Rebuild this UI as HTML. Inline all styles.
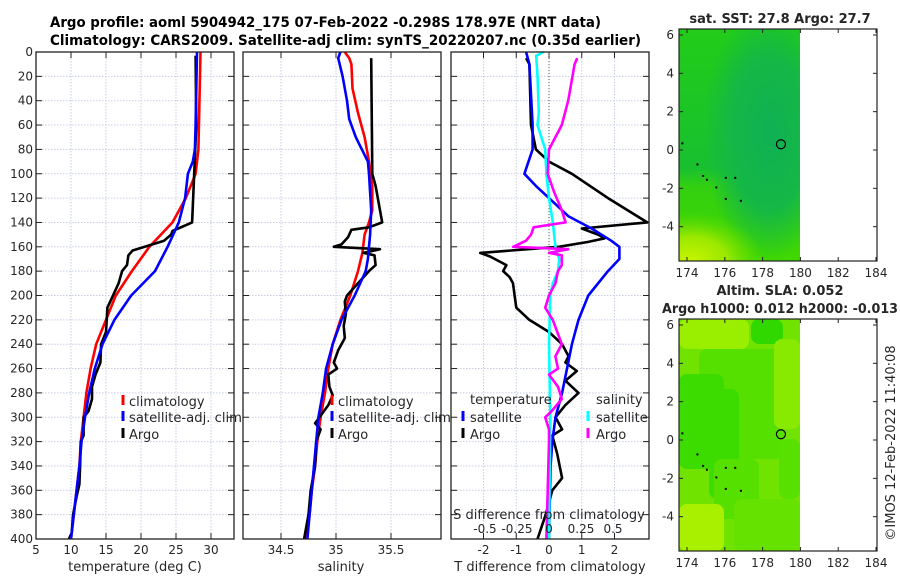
<!DOCTYPE html>
<html><head><meta charset="utf-8">
<style>
html,body{margin:0;padding:0;background:#fff;}
svg{display:block;font-family:"DejaVu Sans","Liberation Sans",sans-serif;}
</style></head>
<body>
<svg id="fig" width="900" height="580" viewBox="0 0 900 580" xmlns="http://www.w3.org/2000/svg">
<defs>
  <radialGradient id="sstTeal" cx="0.75" cy="0.45" r="0.55">
    <stop offset="0" stop-color="#10b055"/>
    <stop offset="0.6" stop-color="#15b845"/>
    <stop offset="1" stop-color="#15b845" stop-opacity="0"/>
  </radialGradient>
  <linearGradient id="sstBase" x1="0" y1="0" x2="0" y2="1">
    <stop offset="0" stop-color="#22cc18"/>
    <stop offset="0.6" stop-color="#18c030"/>
    <stop offset="0.68" stop-color="#33d010"/>
    <stop offset="1" stop-color="#40d800"/>
  </linearGradient>
  <radialGradient id="sstYellow" cx="0.1" cy="1" r="0.6">
    <stop offset="0" stop-color="#c8f400"/>
    <stop offset="0.5" stop-color="#9ae800"/>
    <stop offset="1" stop-color="#60dc00" stop-opacity="0"/>
  </radialGradient>
</defs>
<g id="title" font-weight="bold" font-size="14">
  <text x="50" y="27" textLength="551" lengthAdjust="spacingAndGlyphs">Argo profile: aoml 5904942_175 07-Feb-2022 -0.298S 178.97E (NRT data)</text>
  <text x="50" y="45" textLength="591" lengthAdjust="spacingAndGlyphs">Climatology: CARS2009. Satellite-adj clim: synTS_20220207.nc (0.35d earlier)</text>
</g>
<g id="panels"></g>
<g id="maps"></g>
</svg>
<script>
// ---------- data ----------
const tDepth   = [0,80,100,120,140,160,180,200,220,240,260,280,300,320,340,360,380,400];
const tClim    = [28.5,28.2,27.8,26.4,24.5,21.2,18.7,16.4,15.0,13.6,12.8,12.2,11.8,11.4,11.2,10.8,10.4,10.0];
const tSatDepth= [0,60,80,90,100,120,140,160,180,200,220,240,260,280,300,320,340,360,380,400];
const tSat     = [28.0,27.8,27.7,27.4,26.7,26.3,25.4,23.8,22.0,18.6,16.2,14.5,13.4,12.6,12.0,11.5,11.2,10.8,10.4,10.0];
const tArgoDepth=[3,60,140,147,150,155,163,167,175,180,190,200,210,230,240,255,265,275,285,295,300,315,320,340,355,365,380,395,400];
const tArgo    = [27.8,27.9,27.3,24.5,24.3,23.3,18.8,18.2,18.0,17.3,16.8,16.0,15.2,15.0,14.3,14.2,13.5,13.0,13.0,12.5,11.8,11.8,11.4,11.3,11.2,10.8,10.3,10.1,9.7];

const sClimDepth=[0,5,10,30,50,70,90,110,130,140,150,165,180,200,220,240,260,280,300,320,340,360,380,400];
const sClim    = [35.08,35.12,35.14,35.15,35.2,35.26,35.3,35.33,35.33,35.3,35.26,35.24,35.2,35.13,35.04,34.97,34.93,34.9,34.86,34.83,34.81,34.78,34.76,34.73];
const sSatDepth= [0,5,20,40,55,70,90,100,130,150,170,180,200,220,240,260,280,300,320,340,360,380,400];
const sSat     = [35.04,35.02,35.06,35.1,35.12,35.18,35.29,35.3,35.32,35.31,35.29,35.27,35.17,35.05,34.97,34.91,34.88,34.84,34.82,34.8,34.78,34.76,34.74];
const sArgoDepth=[5,100,110,130,140,144,146,152,158,160,162,165,167,175,180,190,200,205,215,225,235,245,255,260,265,275,282,290,300,305,310,320,340,360,380,400];
const sArgo    = [35.32,35.33,35.36,35.4,35.42,35.3,35.14,35.11,35.05,34.98,35.4,35.25,35.35,35.36,35.3,35.2,35.1,35.08,35.09,35.07,35.08,35.02,34.98,35.01,34.93,34.94,34.97,34.93,34.85,34.81,34.86,34.82,34.81,34.77,34.75,34.71];

const dTSatDepth=[0,10,60,80,100,110,120,135,145,155,160,170,180,200,220,240,260,280,300,320,340,360,400];
const dTSat    = [-0.7,-0.6,-0.5,-0.5,-0.75,-0.4,0,0.6,1.3,1.9,2.15,2.15,1.8,1.2,0.9,0.7,0.55,0.4,0.2,0.1,0.05,0.03,0];
const dTArgoDepth=[5,10,60,80,90,100,120,140,145,150,153,156,160,165,168,175,180,185,190,200,210,220,230,240,250,255,262,270,280,290,300,310,315,330,350,360,380,400];
const dTArgo   = [-0.7,-0.6,-0.55,-0.4,0,0.7,1.8,3.0,1.0,1.5,1.7,1.2,0.3,-2.1,-1.8,-1.3,-1.4,-1.2,-1.1,-1.05,-1.0,-0.6,0,0.4,0.6,0.5,0.85,0.5,0.9,0.5,0.2,0.4,0.1,0.25,0.4,0.1,-0.1,-0.35];
const dSSatDepth=[0,3,20,50,60,80,100,120,140,160,170,180,190,200,240,300,400];
const dSSat    = [-0.04,-0.1,-0.09,-0.08,-0.09,-0.03,-0.02,0,0.03,0.05,0.08,0.07,0.03,0.01,0,0.01,0];
const dSArgoDepth=[5,10,40,60,80,100,115,130,140,144,150,155,160,162,165,167,175,180,190,200,210,220,240,250,260,265,275,285,295,300,310,320,400];
const dSArgo   = [0.22,0.2,0.15,0.1,0,-0.01,0.04,0.1,0.13,-0.12,-0.14,-0.18,-0.28,0.15,0,0.1,0.1,0.07,0.05,0,-0.03,0.03,0.1,0.05,0.07,0,0.07,0.1,0.02,-0.03,0,0,-0.02];

const depthTicks=[0,20,40,60,80,100,120,140,160,180,200,220,240,260,280,300,320,340,360,380,400];
const tTicks=[5,10,15,20,25,30];
const sTicks=[34.5,35,35.5];
const dTTicks=[-2,-1,0,1,2];
const dSTicks=[-0.5,-0.25,0,0.25,0.5];
const dSTickLabels=['-0.5','-0.25','0','0.25','0.5'];
const lonTicks=[174,176,178,180,182,184];
const latTicks=[6,4,2,0,-2,-4];

// ---------- helpers ----------
const NS='http://www.w3.org/2000/svg';
function mk(tag,attrs,parent){const e=document.createElementNS(NS,tag);for(const k in attrs)e.setAttribute(k,attrs[k]);if(parent)parent.appendChild(e);return e;}
const TOP=52,BOT=539;
const yD=d=>TOP+d*(BOT-TOP)/400;
function lin(d0,d1,r0,r1){return v=>r0+(v-d0)*(r1-r0)/(d1-d0);}
const xT=lin(5,30,36,211);
const xS=lin(34.5,35.5,281,391);
const xdT=lin(0,2,549,614.5);
const xdS=lin(0,0.5,549,613);

const panelsG=document.getElementById('panels');
function panel(name,x0,x1,xticks,xfn,labels,showDepth){
  const g=mk('g',{},panelsG);
  
  
  depthTicks.forEach(d=>{const l=mk('line',{x1:x0,x2:x1,y1:yD(d),y2:yD(d),stroke:'#c8cde6','stroke-width':1,'stroke-dasharray':'1.5,1.5'},g);
    });
  xticks.forEach(v=>{const x=xfn(v);const l=mk('line',{x1:x,x2:x,y1:TOP,y2:BOT,stroke:'#c8cde6','stroke-width':1,'stroke-dasharray':'1.5,1.5'},g);
    });
  depthTicks.forEach(d=>{mk('line',{x1:x0,x2:x0+6,y1:yD(d),y2:yD(d),stroke:'#222','stroke-width':1},g);mk('line',{x1:x1-6,x2:x1,y1:yD(d),y2:yD(d),stroke:'#222','stroke-width':1},g);});
  xticks.forEach(v=>{const x=xfn(v);mk('line',{x1:x,x2:x,y1:BOT-6,y2:BOT,stroke:'#222'},g);mk('line',{x1:x,x2:x,y1:TOP,y2:TOP+6,stroke:'#222'},g);});
  if(labels){xticks.forEach((v,i)=>{const t=mk('text',{x:xfn(v),y:BOT+15,'text-anchor':'middle','font-size':12,fill:'#262626'},g);t.textContent=labels[i];
    });}
  if(showDepth){depthTicks.forEach(d=>{const t=mk('text',{x:x0-3,y:yD(d)+4,'text-anchor':'end','font-size':12,fill:'#262626'},g);t.textContent=d;
    });}
  return g;
}
function series(g,name,depths,vals,xfn,color,w){
  const pts=depths.map((d,i)=>xfn(vals[i]).toFixed(1)+','+yD(d).toFixed(1)).join(' ');
  const p=mk('polyline',{points:pts,fill:'none',stroke:color,'stroke-width':w||2.6,'stroke-linejoin':'round'},g);
  
  
}
function box(g,x0,x1){mk('rect',{x:x0,y:TOP,width:x1-x0,height:BOT-TOP,fill:'none',stroke:'#222','stroke-width':1.3},g);}
function text(g,name,x,y,s,attrs){const t=mk('text',Object.assign({x:x,y:y,'font-size':13,fill:'#262626'},attrs||{}),g);t.textContent=s;
  return t;}
function marker(g,name,x,y,color){const r=mk('rect',{x:x-1.5,y:y-6,width:3,height:10,fill:color},g);
  }

// panel 1: temperature
const g1=panel('temperature-panel',36,234,tTicks,xT,tTicks.map(String),true);
series(g1,'temperature-climatology-line',tDepth,tClim,xT,'#f00');
series(g1,'temperature-argo-line',tArgoDepth,tArgo,xT,'#000');
series(g1,'temperature-satellite-line',tSatDepth,tSat,xT,'#00f');
box(g1,36,234);
text(g1,'temperature-x-axis-title',135,571,'temperature (deg C)',{'text-anchor':'middle'});
marker(g1,'legend-climatology-marker',123,401,'#f00');text(g1,'legend-climatology-label',129,406,'climatology');
marker(g1,'legend-satellite-marker',123,417,'#00f');text(g1,'legend-satellite-label',129,422,'satellite-adj. clim',{textLength:113,lengthAdjust:'spacingAndGlyphs'});
marker(g1,'legend-argo-marker',123,434,'#000');text(g1,'legend-argo-label',129,439,'Argo');

// panel 2: salinity
const g2=panel('salinity-panel',243,441,sTicks,xS,['34.5','35','35.5'],false);
series(g2,'salinity-climatology-line',sClimDepth,sClim,xS,'#f00');
series(g2,'salinity-argo-line',sArgoDepth,sArgo,xS,'#000');
series(g2,'salinity-satellite-line',sSatDepth,sSat,xS,'#00f');
box(g2,243,441);
text(g2,'salinity-x-axis-title',341,571,'salinity',{'text-anchor':'middle'});
marker(g2,'legend-climatology-marker',332,401,'#f00');text(g2,'legend-climatology-label',338,406,'climatology');
marker(g2,'legend-satellite-marker',332,417,'#00f');text(g2,'legend-satellite-label',338,422,'satellite-adj. clim',{textLength:113,lengthAdjust:'spacingAndGlyphs'});
marker(g2,'legend-argo-marker',332,434,'#000');text(g2,'legend-argo-label',338,439,'Argo');

// panel 3: differences
const g3=panel('difference-panel',451,649,dTTicks,xdT,dTTicks.map(String),false);
mk('line',{x1:549,x2:549,y1:TOP,y2:BOT,stroke:'#555','stroke-width':1,'stroke-dasharray':'1,2'},g3);
series(g3,'temp-diff-argo-line',dTArgoDepth,dTArgo,xdT,'#000');
series(g3,'temp-diff-satellite-line',dTSatDepth,dTSat,xdT,'#00f');
series(g3,'sal-diff-satellite-line',dSSatDepth,dSSat,xdS,'#0ff');
series(g3,'sal-diff-argo-line',dSArgoDepth,dSArgo,xdS,'#f0f');
box(g3,451,649);
text(g3,'s-diff-axis-title',549,519,'S difference from climatology',{'text-anchor':'middle'});
dSTicks.forEach((v,i)=>{text(g3,'s-diff-tick-label',xdS(v),533,dSTickLabels[i],{'text-anchor':'middle','font-size':12});});
text(g3,'t-diff-x-axis-title',550,571,'T difference from climatology',{'text-anchor':'middle'});
text(g3,'legend-temperature-header',470,404,'temperature');
marker(g3,'legend-temp-satellite-marker',463,417,'#00f');text(g3,'legend-temp-satellite-label',470,422,'satellite');
marker(g3,'legend-temp-argo-marker',463,434,'#000');text(g3,'legend-temp-argo-label',470,439,'Argo');
text(g3,'legend-salinity-header',596,404,'salinity');
marker(g3,'legend-sal-satellite-marker',588,417,'#0ff');text(g3,'legend-sal-satellite-label',596,422,'satellite');
marker(g3,'legend-sal-argo-marker',588,434,'#f0f');text(g3,'legend-sal-argo-label',596,439,'Argo');

// ---------- maps ----------
const mapsG=document.getElementById('maps');
const MX0=679,MX1=877;
const xLon=lin(174,184,687,876);
function map(name,top,title,fillFn){
  const g=mk('g',{},mapsG);
  
  
  const yLat=lin(0,6,top+121,top+6);
  const bot=top+232;
  fillFn(g,top,bot);
  const coast=[[173.7,0.4],[174.5,-0.7],[174.8,-1.3],[175,-1.5],[175.5,-1.9],[176,-1.4],[176.5,-1.4],[176,-2.5],[176.8,-2.6]];
  coast.forEach(c=>mk('rect',{x:xLon(c[0]),y:yLat(c[1]),width:2,height:2,fill:'#000'},g));
  const c=mk('circle',{cx:xLon(178.97),cy:yLat(0.3),r:4.5,fill:'none',stroke:'#000','stroke-width':1.2},g);
  
  mk('rect',{x:MX0,y:top,width:MX1-MX0,height:bot-top,fill:'none',stroke:'#222','stroke-width':1.2},g);
  lonTicks.forEach(v=>{const x=xLon(v);mk('line',{x1:x,x2:x,y1:bot-4,y2:bot,stroke:'#222'},g);mk('line',{x1:x,x2:x,y1:top,y2:top+4,stroke:'#222'},g);
    text(g,'lon-tick-label',x,bot+16,String(v),{'text-anchor':'middle','font-size':12});});
  latTicks.forEach(v=>{const y=yLat(v);mk('line',{x1:MX0,x2:MX0+4,y1:y,y2:y,stroke:'#222'},g);mk('line',{x1:MX1-4,x2:MX1,y1:y,y2:y,stroke:'#222'},g);
    text(g,'lat-tick-label',MX0-5,y+4,String(v),{'text-anchor':'end','font-size':12});});
  return g;
}
map('sst-map',29,'',(g,top,bot)=>{
  mk('rect',{x:MX0,y:top,width:121,height:bot-top,fill:'url(#sstBase)'},g);
  mk('rect',{x:MX0,y:top,width:121,height:bot-top,fill:'url(#sstTeal)'},g);
  mk('rect',{x:MX0,y:top+150,width:121,height:bot-top-150,fill:'url(#sstYellow)'},g);
});
text(mapsG,'sst-map-title',780,23,'sat. SST: 27.8 Argo: 27.7',{'text-anchor':'middle','font-weight':'bold'});
map('sla-map',319,'',(g,top,bot)=>{
  mk('rect',{x:MX0,y:top,width:121,height:bot-top,fill:'#70e400'},g);
  const blobs=[[20,30,85,110,'#55e000'],[0,55,45,95,'#3ddc00'],[30,70,30,110,'#3ddc00'],[35,140,45,60,'#55e000'],[72,0,32,25,'#30d800'],[95,20,26,90,'#88ea00'],[0,0,70,30,'#9aee00'],[0,185,45,47,'#a8f000'],[55,180,66,52,'#66e200'],[100,120,21,60,'#58e000']];
  blobs.forEach(b=>mk('rect',{x:MX0+b[0],y:top+b[1],width:b[2],height:b[3],fill:b[4],rx:8},g));
});
text(mapsG,'sla-map-title-1',780,295,'Altim. SLA: 0.052',{'text-anchor':'middle','font-weight':'bold'});
text(mapsG,'sla-map-title-2',780,313,'Argo h1000: 0.012 h2000: -0.013',{'text-anchor':'middle','font-weight':'bold',textLength:236,lengthAdjust:'spacingAndGlyphs'});
text(mapsG,'imos-credit',0,0,'\u00a9IMOS 12-Feb-2022 11:40:08',{'text-anchor':'middle','font-size':13,transform:'translate(895,443) rotate(-90)'});
</script>
</body></html>
